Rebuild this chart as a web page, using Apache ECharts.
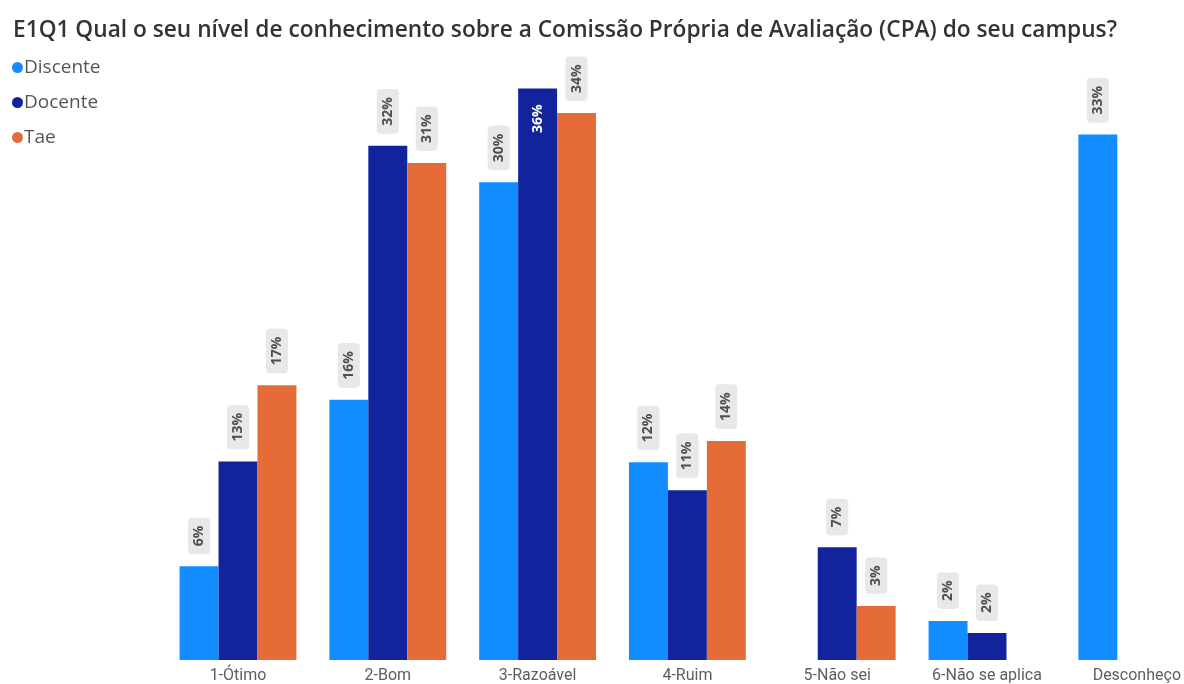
<!DOCTYPE html>
<html>
<head>
<meta charset="utf-8">
<script src="https://cdn.jsdelivr.net/npm/echarts@6/dist/echarts.min.js"></script>
<style>
html,body{margin:0;padding:0;background:#fff;}
#chart{width:1184px;height:684px;}
</style>
</head>
<body>
<div id="chart"></div>
<script>
const titleText = 'E1Q1 Qual o seu nível de conhecimento sobre a Comissão Própria de Avaliação (CPA) do seu campus?';
const categories = ['1-Ótimo', '2-Bom', '3-Razoável', '4-Ruim', '5-Não sei', '6-Não se aplica', 'Desconheço'];
const seriesNames = ['Discente', 'Docente', 'Tae'];
const discente = [5.9, 16.4, 30.1, 12.45, null, 2.45, 33.1];
const docente = [12.5, 32.4, 36.0, 10.7, 7.1, 1.7, null];
const tae = [17.3, 31.3, 34.45, 13.8, 3.4, null, null];
const colors = ['#118DFF', '#12239E', '#E66C37'];

const chart = echarts.init(document.getElementById('chart'));

const baseLabel = {
  show: true,
  position: 'top',
  distance: 12,
  rotate: 90,
  align: 'left',
  verticalAlign: 'middle',
  fontFamily: 'Open Sans',
  fontWeight: 'bold',
  fontSize: 14,
  color: '#505050',
  backgroundColor: '#E8E8E8',
  borderRadius: 4,
  padding: [4, 8],
  formatter: p => Math.round(p.value) + '%'
};

function mkSeries(name, data, color) {
  const d = data.map((v, i) => {
    if (v === null) return null;
    if (name === 'Docente' && i === 2) {
      return {
        value: v,
        label: {
          position: 'insideTop',
          distance: 8,
          align: 'right',
          backgroundColor: 'transparent',
          color: '#ffffff'
        }
      };
    }
    return v;
  });
  return {
    name: name,
    type: 'bar',
    data: d,
    clip: false,
    barGap: '0%',
    barCategoryGap: '22%',
    itemStyle: { color: color },
    label: baseLabel
  };
}

chart.setOption({
  animation: false,
  color: colors,
  title: {
    text: titleText,
    left: 8,
    top: 14,
    textStyle: {
      fontFamily: 'Open Sans',
      fontWeight: 600,
      fontSize: 22.7,
      color: '#333333'
    }
  },
  legend: {
    orient: 'vertical',
    left: 7,
    top: 50,
    itemGap: 10,
    itemWidth: 11,
    itemHeight: 11,
    icon: 'circle',
    data: seriesNames,
    textStyle: {
      fontFamily: 'Open Sans',
      fontSize: 19,
      lineHeight: 25,
      color: '#555555',
      padding: [0, 0, 0, -4]
    }
  },
  grid: {
    left: 238,
    top: 25,
    width: 903,
    height: 636,
    containLabel: false
  },
  xAxis: {
    type: 'category',
    data: categories,
    boundaryGap: false,
    axisLine: { show: false },
    axisTick: { show: false },
    splitLine: { show: false },
    axisLabel: {
      margin: 8,
      fontFamily: 'Roboto',
      fontSize: 16,
      color: '#605E5C',
      interval: 0
    }
  },
  yAxis: {
    type: 'value',
    min: 0,
    max: 40,
    show: false,
    splitLine: { show: false }
  },
  series: [
    mkSeries('Discente', discente, colors[0]),
    mkSeries('Docente', docente, colors[1]),
    mkSeries('Tae', tae, colors[2])
  ]
});
</script>
</body>
</html>
